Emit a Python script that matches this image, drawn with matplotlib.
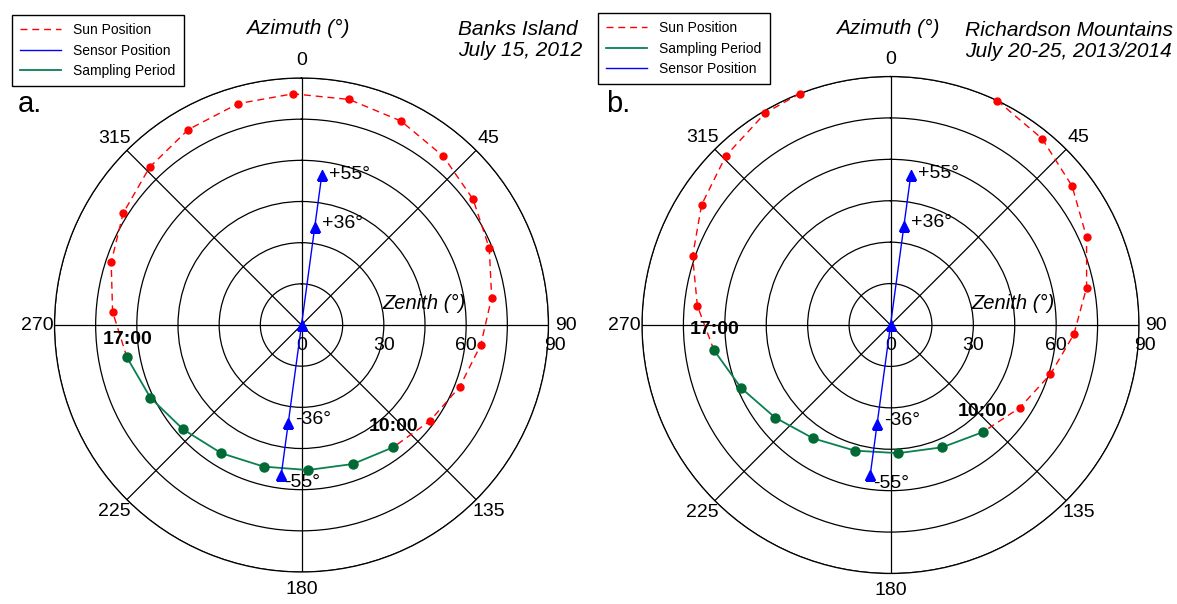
import numpy as np
import matplotlib
matplotlib.use("Agg")
import matplotlib.pyplot as plt
from matplotlib.lines import Line2D

plt.rcParams["font.family"] = ["Liberation Sans", "DejaVu Sans"]

W, H = 1177, 604

THETA_TICKS = [0, 45, 90, 135, 180, 225, 270, 315]
ZENITH_RINGS = [15, 30, 45, 60, 75, 90]
ZENITH_LABELS = [0, 30, 60, 90]

# a. Banks Island, July 15, 2012 (azimuth deg, zenith deg)
sun_az_a = [259.5, 274.0, 288.2, 302.1, 316.1, 329.9, 344.0, 357.9, 11.9, 26.0,
            40.0, 53.8, 67.8, 81.8, 96.4, 111.3, 126.8, 143.1]
sun_zen_a = [64.7, 69.0, 73.0, 76.7, 79.8, 82.3, 83.9, 84.3, 84.0, 82.7,
             80.3, 77.5, 73.9, 70.0, 65.7, 61.9, 58.4, 55.7]
samp_az_a = [143.1, 159.7, 177.5, 194.9, 212.0, 228.6, 244.3, 259.5]
samp_zen_a = [55.7, 54.0, 52.9, 53.4, 55.1, 57.5, 61.1, 64.7]

# b. Richardson Mountains, July 20-25, 2013/2014
sun_eve_az_b = [261.9, 275.7, 289.2, 302.5, 315.8, 329.5, 338.6]
sun_eve_zen_b = [64.6, 70.3, 75.9, 81.1, 85.5, 89.2, 90.0]
sun_morn_az_b = [25.4, 39.1, 52.6, 65.9, 79.2, 92.9, 107.1, 122.6, 139.3]
sun_morn_zen_b = [90.0, 87.0, 82.8, 77.8, 72.3, 66.5, 60.6, 55.6, 51.2]
samp_az_b = [139.3, 157.0, 176.5, 195.8, 214.3, 231.3, 247.1, 261.9]
samp_zen_b = [51.2, 48.1, 46.5, 47.3, 49.7, 53.6, 58.7, 64.6]

# sensor pointing (same for both sites)
sensor_az = [187.7, 187.7, 7.7, 7.7, 7.7]
sensor_zen = [55, 36, 0, 36, 55]
sensor_labels = ["-55°", "-36°", "", "+36°", "+55°"]
sensor_offsets = [(3, -8), (7, 3), (0, 0), (7, 4), (7, 1)]

RED = "#ff0000"
BLUE = "#0000ff"
GREEN = "#0a8050"
GREEN_DOT = "#006a35"

fig = plt.figure(figsize=(W / 100, H / 100), dpi=100)


def ftext(x, y, s, **kw):
    # text placed in figure pixels (origin top-left)
    return fig.text(x / W, 1 - y / H, s, **kw)


def polar_panel(cx, cy, R):
    ax = fig.add_axes([(cx - R) / W, (H - cy - R) / H, 2 * R / W, 2 * R / H],
                      projection="polar")
    ax.set_theta_zero_location("N")
    ax.set_theta_direction(-1)
    ax.set_rlim(0, 90)
    ax.set_rgrids(ZENITH_RINGS, labels=[""] * len(ZENITH_RINGS))
    ax.set_thetagrids(THETA_TICKS, labels=[str(t) for t in THETA_TICKS], fontsize=14)
    ax.tick_params(axis="x", pad=2)
    ax.grid(True, color="black", lw=0.9)
    ax.spines["polar"].set_color("black")
    ax.spines["polar"].set_linewidth(0.9)
    for z in ZENITH_LABELS:
        dx = 6 if z == 90 else 0
        ax.annotate(str(z), xy=(np.pi / 2, z), xytext=(dx, -20), textcoords="offset pixels",
                    ha="center", va="center", fontsize=14)
    ax.annotate("Zenith (°)", xy=(0, 0), xytext=(123, 22), textcoords="offset pixels",
                ha="center", va="center", fontsize=14.5, style="italic")
    return ax


def sun(ax, az, zen):
    ax.plot(np.deg2rad(az), zen, color=RED, ls="--", dashes=(5, 3.5), lw=1,
            marker="o", ms=5, mfc=RED, mec=RED, clip_on=False, zorder=3)


def sampling(ax, az, zen, dy17):
    ax.plot(np.deg2rad(az), zen, color=GREEN, lw=1.3, marker="o", ms=6.5,
            mfc=GREEN_DOT, mec=GREEN_DOT, zorder=4)
    ax.annotate("10:00", xy=(np.deg2rad(az[0]), zen[0]), xytext=(0, 21),
                textcoords="offset pixels", ha="center", va="center",
                fontsize=14, fontweight="bold")
    ax.annotate("17:00", xy=(np.deg2rad(az[-1]), zen[-1]), xytext=(1, dy17),
                textcoords="offset pixels", ha="center", va="center",
                fontsize=14, fontweight="bold")


def sensor(ax):
    ax.plot(np.deg2rad(sensor_az), sensor_zen, color=BLUE, lw=1, marker="^", ms=7,
            mfc=BLUE, mec=BLUE, zorder=5)
    for a, z, lab, off in zip(sensor_az, sensor_zen, sensor_labels, sensor_offsets):
        if lab:
            ax.annotate(lab, xy=(np.deg2rad(a), z), xytext=off, textcoords="offset pixels",
                        ha="left", va="center", fontsize=14)


handles = {
    "Sun Position": Line2D([], [], color=RED, ls="--", dashes=(5, 3.5), lw=1),
    "Sensor Position": Line2D([], [], color=BLUE, lw=1),
    "Sampling Period": Line2D([], [], color=GREEN, lw=1.3),
}


def legend(ax, order, x, y):
    leg = ax.legend([handles[k] for k in order], order, loc="upper left",
                    bbox_to_anchor=(x / W, 1 - y / H), bbox_transform=fig.transFigure,
                    borderaxespad=0, fontsize=10, handlelength=2.9, handletextpad=0.9,
                    labelspacing=0.45, borderpad=0.6, fancybox=False, framealpha=1)
    leg.get_frame().set_edgecolor("black")
    leg.get_frame().set_linewidth(1)


# panel a
ax1 = polar_panel(301.5, 325, 247)
sun(ax1, sun_az_a, sun_zen_a)
sampling(ax1, samp_az_a, samp_zen_a, 18)
sensor(ax1)
legend(ax1, ["Sun Position", "Sensor Position", "Sampling Period"], 12, 15)
ftext(297.5, 28, "Azimuth (°)", ha="center", va="center", fontsize=15, style="italic")
ftext(458, 35, "Banks Island", ha="left", va="baseline", fontsize=15, style="italic")
ftext(458, 56, "July 15, 2012", ha="left", va="baseline", fontsize=15, style="italic")
ftext(18, 112, "a.", ha="left", va="baseline", fontsize=21)

# panel b
ax2 = polar_panel(890.5, 325, 248.5)
sun(ax2, sun_eve_az_b, sun_eve_zen_b)
sun(ax2, sun_morn_az_b, sun_morn_zen_b)
sampling(ax2, samp_az_b, samp_zen_b, 21)
sensor(ax2)
legend(ax2, ["Sun Position", "Sampling Period", "Sensor Position"], 598, 13)
ftext(888, 28, "Azimuth (°)", ha="center", va="center", fontsize=15, style="italic")
ftext(965, 36, "Richardson Mountains", ha="left", va="baseline", fontsize=15, style="italic")
ftext(965, 57, "July 20-25, 2013/2014", ha="left", va="baseline", fontsize=15, style="italic")
ftext(606, 112, "b.", ha="left", va="baseline", fontsize=21)

fig.savefig("out.png", dpi=100)
